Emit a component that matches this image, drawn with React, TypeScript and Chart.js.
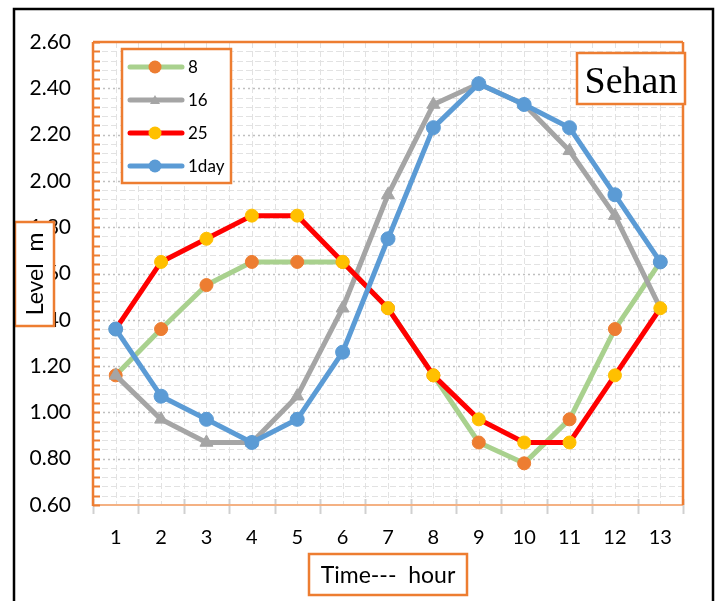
import React, { useEffect, useRef } from "react";
import { Chart, registerables } from "chart.js";

Chart.register(...registerables);

// Hourly water level (m) at Sehan for several time steps
const hours = ["1", "2", "3", "4", "5", "6", "7", "8", "9", "10", "11", "12", "13"];
const level8 = [1.16, 1.36, 1.55, 1.65, 1.65, 1.65, 1.45, 1.16, 0.87, 0.78, 0.97, 1.36, 1.65];
const level16 = [1.16, 0.97, 0.87, 0.87, 1.07, 1.45, 1.94, 2.33, 2.42, 2.33, 2.13, 1.85, 1.45];
const level25 = [1.36, 1.65, 1.75, 1.85, 1.85, 1.65, 1.45, 1.16, 0.97, 0.87, 0.87, 1.16, 1.45];
const level1day = [1.36, 1.07, 0.97, 0.87, 0.97, 1.26, 1.75, 2.23, 2.42, 2.33, 2.23, 1.94, 1.65];
const seriesNames = ["8", "16", "25", "1day"];

const Y_MIN = 0.6;
const Y_MAX = 2.6;
const Y_STEP = 0.2;
const Y_MINOR = 0.04;

const ORANGE = "#ED7D31";
const TICK_FONT = "Lato";

function line(ctx: CanvasRenderingContext2D, x1: number, y1: number, x2: number, y2: number) {
  ctx.beginPath();
  ctx.moveTo(x1, y1);
  ctx.lineTo(x2, y2);
  ctx.stroke();
}

function box(ctx: CanvasRenderingContext2D, x1: number, y1: number, x2: number, y2: number) {
  ctx.fillStyle = "#ffffff";
  ctx.fillRect(x1, y1, x2 - x1, y2 - y1);
  ctx.strokeStyle = ORANGE;
  ctx.lineWidth = 2.5;
  ctx.setLineDash([]);
  ctx.strokeRect(x1, y1, x2 - x1, y2 - y1);
}

const plotFrame = {
  id: "plotFrame",
  beforeDatasetsDraw(chart: any) {
    const { ctx, chartArea: a, scales } = chart;
    const x = scales.x;
    const y = scales.y;
    ctx.save();

    const steps = Math.round((Y_MAX - Y_MIN) / Y_MINOR);
    const perMajor = Math.round(Y_STEP / Y_MINOR);
    const half = (x.getPixelForValue(1) - x.getPixelForValue(0)) / 2;

    // minor dashed grid
    ctx.lineWidth = 1;
    ctx.strokeStyle = "#e2e2e2";
    ctx.setLineDash([6, 3]);
    for (let i = 1; i < steps; i++) {
      if (i % perMajor === 0) continue;
      const py = Math.round(y.getPixelForValue(Y_MIN + i * Y_MINOR)) + 0.5;
      line(ctx, a.left, py, a.right, py);
    }
    for (let i = 0; i < hours.length; i++) {
      const c = x.getPixelForValue(i);
      for (const px of [c - half, c]) {
        if (px <= a.left + 1) continue;
        const rx = Math.round(px) + 0.5;
        line(ctx, rx, a.top, rx, a.bottom);
      }
    }

    // major dotted grid
    ctx.lineWidth = 1.5;
    ctx.strokeStyle = "#bfbfbf";
    ctx.setLineDash([2, 3]);
    for (let i = perMajor; i < steps; i += perMajor) {
      const py = Math.round(y.getPixelForValue(Y_MIN + i * Y_MINOR)) + 0.5;
      line(ctx, a.left, py, a.right, py);
    }

    ctx.setLineDash([]);
    // category ticks below the axis
    ctx.strokeStyle = "#d0d0d0";
    ctx.lineWidth = 2;
    for (let i = 0; i <= hours.length; i++) {
      const px = Math.round(x.getPixelForValue(i) - half) + 0.5;
      line(ctx, px, a.bottom - 6, px, a.bottom + 9);
    }
    // horizontal axis line
    ctx.strokeStyle = "#F4B183";
    ctx.lineWidth = 2;
    line(ctx, a.left, a.bottom, a.right, a.bottom);

    // orange plot border
    ctx.strokeStyle = ORANGE;
    ctx.lineWidth = 2.5;
    line(ctx, a.left, a.bottom + 1, a.left, a.top);
    line(ctx, a.left, a.top, a.right, a.top);
    line(ctx, a.right, a.top, a.right, a.bottom);

    // small ticks on the vertical axis
    ctx.lineWidth = 2;
    for (let i = 0; i <= steps; i++) {
      const py = Math.round(y.getPixelForValue(Y_MIN + i * Y_MINOR)) + 0.5;
      line(ctx, a.left, py, a.left + 7, py);
    }
    ctx.restore();
  },
  afterDraw(chart: any) {
    const { ctx } = chart;
    ctx.save();

    // legend
    box(ctx, 122, 49, 231, 183);
    const rows = [67, 100, 133, 166];
    chart.data.datasets.forEach((ds: any, i: number) => {
      const ry = rows[i];
      ctx.strokeStyle = ds.borderColor;
      ctx.lineWidth = 5;
      ctx.lineCap = "round";
      line(ctx, 130, ry, 182, ry);
      ctx.lineCap = "butt";
      ctx.fillStyle = ds.pointBackgroundColor;
      if (ds.pointStyle === "triangle") {
        ctx.beginPath();
        ctx.moveTo(155, ry - 5);
        ctx.lineTo(160, ry + 4);
        ctx.lineTo(150, ry + 4);
        ctx.closePath();
        ctx.fill();
      } else {
        ctx.beginPath();
        ctx.arc(155, ry, 6.5, 0, Math.PI * 2);
        ctx.fill();
      }
      ctx.fillStyle = "#000000";
      ctx.font = `17px ${TICK_FONT}`;
      ctx.textAlign = "left";
      ctx.textBaseline = "middle";
      ctx.fillText(seriesNames[i], 188, ry + 1);
    });

    // station name
    box(ctx, 577, 53, 685, 104);
    ctx.fillStyle = "#000000";
    ctx.font = "38px 'Liberation Serif'";
    ctx.textAlign = "center";
    ctx.textBaseline = "alphabetic";
    ctx.fillText("Sehan", 631, 93);

    // vertical axis title
    box(ctx, 15, 222, 54, 326);
    ctx.save();
    ctx.translate(43, 274);
    ctx.rotate(-Math.PI / 2);
    ctx.fillStyle = "#000000";
    ctx.font = `23px ${TICK_FONT}`;
    ctx.textAlign = "center";
    ctx.textBaseline = "alphabetic";
    ctx.fillText("Level  m", 0, 0);
    ctx.restore();

    // horizontal axis title
    box(ctx, 309, 554, 467, 595);
    ctx.fillStyle = "#000000";
    ctx.font = `23px ${TICK_FONT}`;
    ctx.textAlign = "center";
    ctx.textBaseline = "alphabetic";
    ctx.fillText("Time---  hour", 388, 583);

    // outer frame
    ctx.strokeStyle = "#000000";
    ctx.lineWidth = 2.5;
    ctx.strokeRect(14, 9, 699, 620);
    ctx.restore();
  },
};

export default function App() {
  const canvasRef = useRef<HTMLCanvasElement | null>(null);

  useEffect(() => {
    const canvas = canvasRef.current;
    if (!canvas) return;
    const makeSet = (
      label: string,
      data: number[],
      lineColor: string,
      pointColor: string,
      order: number,
      pointStyle: string = "circle",
      radius: number = 6.5
    ) => ({
      label,
      data,
      borderColor: lineColor,
      borderWidth: 5,
      pointBackgroundColor: pointColor,
      pointBorderColor: pointColor,
      pointBorderWidth: 1,
      pointRadius: radius,
      pointStyle,
      tension: 0,
      fill: false,
      order,
      borderJoinStyle: "round" as const,
    });

    const chart = new Chart(canvas, {
      type: "line",
      data: {
        labels: hours,
        datasets: [
          makeSet(seriesNames[0], level8, "#A9D18E", ORANGE, 4),
          makeSet(seriesNames[1], level16, "#A5A5A5", "#A5A5A5", 3, "triangle", 7.5),
          makeSet(seriesNames[2], level25, "#FF0000", "#FFC000", 2),
          makeSet(seriesNames[3], level1day, "#5B9BD5", "#5B9BD5", 1, "circle", 7),
        ],
      },
      options: {
        responsive: false,
        animation: false,
        devicePixelRatio: 1,
        layout: { padding: { top: 42, right: 37, bottom: 0, left: 0 } },
        plugins: {
          legend: { display: false },
          tooltip: { enabled: false },
          title: { display: false },
        },
        scales: {
          x: {
            type: "category",
            offset: true,
            grid: { display: false },
            border: { display: false },
            ticks: {
              color: "#000000",
              font: { family: TICK_FONT, size: 20 },
              padding: 13,
              maxRotation: 0,
            },
            afterFit: (s: any) => {
              s.height = 96;
            },
          },
          y: {
            min: Y_MIN,
            max: Y_MAX,
            grid: { display: false },
            border: { display: false },
            ticks: {
              stepSize: Y_STEP,
              color: "#000000",
              font: { family: TICK_FONT, size: 21 },
              padding: 14,
              callback: (v: any) => Number(v).toFixed(2),
            },
            afterFit: (s: any) => {
              s.width = 93;
            },
          },
        },
      },
      plugins: [plotFrame],
    });
    return () => chart.destroy();
  }, []);

  return (
    <div style={{ position: "absolute", left: 0, top: 0, width: 720, height: 601, background: "#ffffff" }}>
      <canvas ref={canvasRef} width={720} height={601} />
    </div>
  );
}
